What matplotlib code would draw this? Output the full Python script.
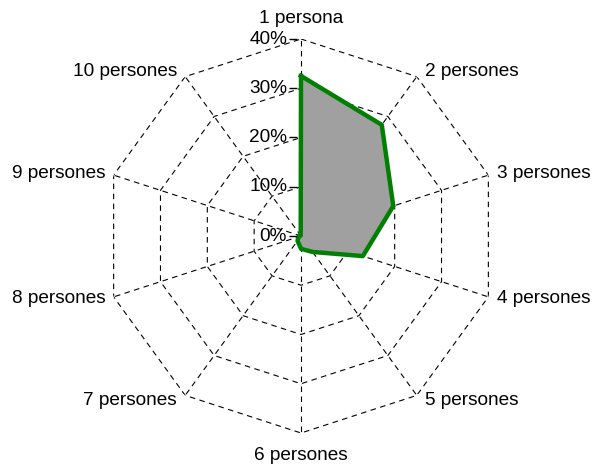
import numpy as np
import matplotlib
matplotlib.use("Agg")
import matplotlib.pyplot as plt
from matplotlib.transforms import offset_copy

plt.rcParams['font.family'] = ['Liberation Sans', 'DejaVu Sans']

# values
categories = ["1 persona", "2 persones", "3 persones", "4 persones", "5 persones",
              "6 persones", "7 persones", "8 persones", "9 persones", "10 persones"]
shares = [32.5, 27.9, 19.7, 13.2, 4.0, 2.6, 1.2, 0.5, 0.2, 0.1]
rings = [0, 10, 20, 30, 40]
ring_labels = ["0%", "10%", "20%", "30%", "40%"]

n = len(categories)
angles = np.arange(n) * 2 * np.pi / n
fs = 13.7

fig = plt.figure(figsize=(5.92, 4.65), dpi=100)
ax = fig.add_axes([104 / 592, 32 / 465, 394 / 592, 394 / 465], projection='polar')
ax.set_theta_zero_location('N')
ax.set_theta_direction(-1)
ax.set_ylim(0, 40)
ax.grid(False)
ax.spines['polar'].set_visible(False)
ax.set_xticks([])
ax.set_yticks([])
ax.patch.set_visible(False)

closed = np.append(angles, angles[0])

# dashed decagon grid
for r in rings[1:]:
    ax.plot(closed, [r] * (n + 1), color='black', lw=0.8, ls=(0, (5, 4)), zorder=1)
for a in angles:
    ax.plot([a, a], [0, rings[-1]], color='black', lw=0.8, ls=(0, (5, 4)), zorder=1)

# data polygon
vals = np.append(shares, shares[0])
ax.fill(closed, vals, color='#a0a0a0', zorder=2)
ax.plot(closed, vals, color='#008000', lw=3.2, zorder=3)

# radial tick marks and labels on the first axis
tick_tr = offset_copy(ax.transData, fig=fig, x=-8, y=0, units='dots')
ax.plot([0] * len(rings), rings, ls='none', marker='_', ms=6, mew=1.0,
        color='black', transform=tick_tr, zorder=4, clip_on=False)
for r, lab in zip(rings, ring_labels):
    ax.annotate(lab, xy=(0, r), xytext=(-10, 0), textcoords='offset points',
                ha='right', va='center', fontsize=fs, zorder=4)

# category labels
for a, lab in zip(angles, categories):
    s = np.sin(a)
    c = np.cos(a)
    if abs(s) < 0.01:
        ha = 'center'
        va = 'bottom' if c > 0 else 'top'
        off = (0, 8.5 if c > 0 else -10)
    else:
        ha = 'left' if s > 0 else 'right'
        va = 'center'
        off = (6 * np.sign(s), 4.3 * c)
    ax.annotate(lab, xy=(a, rings[-1]), xytext=off, textcoords='offset points',
                ha=ha, va=va, fontsize=fs, annotation_clip=False)

fig.savefig("out.png", dpi=100)
